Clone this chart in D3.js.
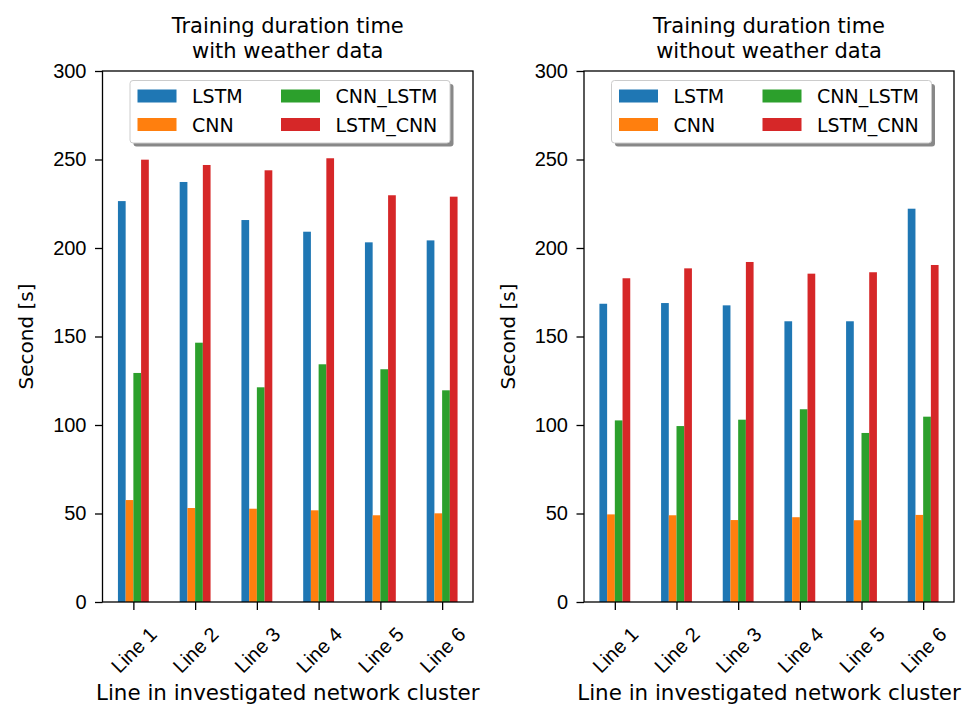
<!DOCTYPE html>
<html>
<head>
<meta charset="utf-8">
<script src="https://cdn.jsdelivr.net/npm/d3@7"></script>
<style>
  body { margin: 0; background: #fff; }
  svg { display: block; font-family: "DejaVu Sans", sans-serif; }
  .domain, .tick line { stroke: #000; stroke-width: 1.3; }
</style>
</head>
<body>
<svg id="chart" width="967" height="709"></svg>
<script>
// categories and series
var categories = ["Line 1", "Line 2", "Line 3", "Line 4", "Line 5", "Line 6"];
var seriesNames = ["LSTM", "CNN", "CNN_LSTM", "LSTM_CNN"];
var seriesColors = ["#1f77b4", "#ff7f0e", "#2ca02c", "#d62728"];
var yTicks = [0, 50, 100, 150, 200, 250, 300];

// with weather data
var withLSTM = [226.5, 237.3, 215.8, 209.2, 203.2, 204.3];
var withCNN = [57.6, 53.1, 52.7, 51.8, 49.0, 50.1];
var withCNN_LSTM = [129.4, 146.5, 121.3, 134.3, 131.5, 119.6];
var withLSTM_CNN = [249.9, 246.9, 243.9, 250.7, 229.8, 229.0];

// without weather data
var withoutLSTM = [168.5, 168.9, 167.6, 158.6, 158.6, 222.2];
var withoutCNN = [49.5, 49.0, 46.3, 47.9, 46.2, 49.2];
var withoutCNN_LSTM = [102.6, 99.4, 103.0, 108.9, 95.5, 104.7];
var withoutLSTM_CNN = [182.9, 188.5, 192.1, 185.5, 186.3, 190.4];

var panels = [
  { title: ["Training duration time", "with weather data"], left: 102.5, right: 473,
    series: [withLSTM, withCNN, withCNN_LSTM, withLSTM_CNN] },
  { title: ["Training duration time", "without weather data"], left: 584, right: 954,
    series: [withoutLSTM, withoutCNN, withoutCNN_LSTM, withoutLSTM_CNN] }
];

var plotTop = 71, plotBottom = 602;
var svg = d3.select("#chart");

panels.forEach(function(p) {
  var g = svg.append("g");
  var x = d3.scaleLinear().domain([-0.5, categories.length - 0.5]).range([p.left, p.right]);
  var y = d3.scaleLinear().domain([0, 300]).range([plotBottom, plotTop]);
  var barW = 0.125;

  //bars
  p.series.forEach(function(vals, si) {
    var off = (si - 1.5) * barW - barW / 2;
    g.append("g").selectAll("rect")
      .data(vals)
      .enter().append("rect")
        .attr("x", function(d, i) { return x(i + off); })
        .attr("width", x(barW) - x(0))
        .attr("y", function(d) { return y(d); })
        .attr("height", function(d) { return y(0) - y(d); })
        .attr("fill", seriesColors[si]);
  });

  //axes
  var yAxis = g.append("g")
    .attr("transform", "translate(" + p.left + ",0)")
    .call(d3.axisLeft(y).tickValues(yTicks).tickSize(7.5).tickPadding(8.5).tickFormat(d3.format("d")));
  yAxis.selectAll(".tick text").attr("font-size", 20).attr("fill", "#000");
  yAxis.select(".domain").remove();

  var xAxis = g.append("g")
    .attr("transform", "translate(0," + plotBottom + ")")
    .call(d3.axisBottom(x).tickValues(d3.range(categories.length)).tickSize(8)
      .tickFormat(function(i) { return categories[i]; }));
  xAxis.selectAll(".tick text")
    .attr("font-size", 20)
    .attr("fill", "#000")
    .attr("text-anchor", "middle")
    .attr("dominant-baseline", "central")
    .attr("y", 0)
    .attr("dy", null)
    .attr("transform", "translate(0,48) rotate(-45)");
  xAxis.select(".domain").remove();

  //frame
  g.append("rect")
    .attr("x", p.left).attr("y", plotTop)
    .attr("width", p.right - p.left).attr("height", plotBottom - plotTop)
    .attr("fill", "none").attr("stroke", "#000").attr("stroke-width", 1.3);

  //titles
  var cx = (p.left + p.right) / 2;
  p.title.forEach(function(t, i) {
    g.append("text")
      .attr("x", cx).attr("y", 33 + i * 25)
      .attr("text-anchor", "middle")
      .attr("font-size", 21)
      .text(t);
  });
  g.append("text")
    .attr("x", cx).attr("y", 700)
    .attr("text-anchor", "middle")
    .attr("font-size", 21.4)
    .text("Line in investigated network cluster");
  g.append("text")
    .attr("transform", "translate(" + (p.left - 69.5) + "," + ((plotTop + plotBottom) / 2) + ") rotate(-90)")
    .attr("text-anchor", "middle")
    .attr("font-size", 20)
    .text("Second [s]");

  //legend
  var lx = p.left + 27.5, ly = 80.5, lw = 320, lh = 62.5;
  var leg = g.append("g");
  leg.append("rect")
    .attr("x", lx + 3.5).attr("y", ly + 3.5).attr("width", lw).attr("height", lh)
    .attr("rx", 3).attr("fill", "#888");
  leg.append("rect")
    .attr("x", lx).attr("y", ly).attr("width", lw).attr("height", lh)
    .attr("rx", 3).attr("fill", "#fff").attr("stroke", "#ccc");
  seriesNames.forEach(function(name, i) {
    var col = i < 2 ? 0 : 1, row = i % 2;
    var hx = lx + 7.5 + col * 143.5, hy = ly + 15.5 + row * 28.5;
    leg.append("rect")
      .attr("x", hx).attr("y", hy - 6.5).attr("width", 39).attr("height", 13)
      .attr("fill", seriesColors[i]);
    leg.append("text")
      .attr("x", hx + 54.5).attr("y", hy)
      .attr("dominant-baseline", "central")
      .attr("font-size", 19)
      .text(name);
  });
});
</script>
</body>
</html>
